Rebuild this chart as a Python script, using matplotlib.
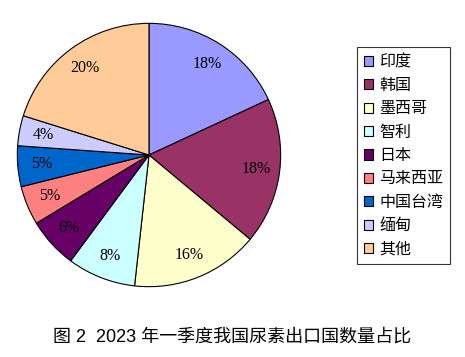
import matplotlib
matplotlib.use("Agg")
import matplotlib.pyplot as plt

plt.rcParams['font.family'] = ['Noto Sans CJK SC', 'DejaVu Sans']

categories = ['印度', '韩国', '墨西哥', '智利', '日本', '马来西亚', '中国台湾', '缅甸', '其他']
values = [18.1, 18.0, 15.7, 8.4, 6.2, 4.8, 5.0, 3.7, 20.2]
colors = ['#9999FF', '#993366', '#FFFFCC', '#CCFFFF', '#660066', '#FF8080', '#0066CC', '#CCCCFF', '#FFCC99']
title = '图 2  2023 年一季度我国尿素出口国数量占比'

fig = plt.figure(figsize=(4.65, 3.57), dpi=100)
ax = fig.add_axes([0.0344, 0.1933, 0.572, 0.745])
wedges, texts, autotexts = ax.pie(
    values, colors=colors, startangle=90, counterclock=False,
    autopct='%.0f%%', pctdistance=0.82, radius=1.0,
    wedgeprops=dict(edgecolor='black', linewidth=0.8),
    textprops=dict(family=['Liberation Serif'], fontsize=11.5, color='black'))
ax.set_xlim(-1.01, 1.01)
ax.set_ylim(-1.01, 1.01)
ax.set_aspect('equal')
ax.axis('off')

leg = fig.legend(wedges, categories, loc='upper left', bbox_to_anchor=(0.768, 0.868),
                 frameon=True, fancybox=False, shadow=False, fontsize=11.5,
                 handlelength=0.6, handleheight=0.6, handletextpad=0.4,
                 labelspacing=0.4, borderpad=0.4, borderaxespad=0)
leg.get_frame().set_edgecolor('black')
leg.get_frame().set_linewidth(0.8)

fig.text(0.5, 1 - 337 / 357, title, ha='center', va='center', fontsize=13,
         family=['Liberation Sans', 'Noto Sans CJK SC'])

fig.savefig('out.png', dpi=100)
